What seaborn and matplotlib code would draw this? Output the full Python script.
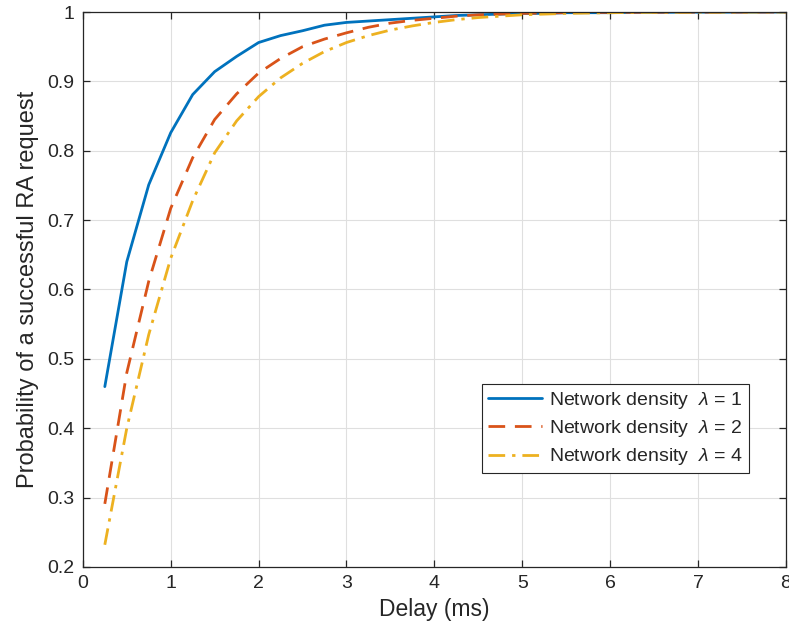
import numpy as np
import pandas as pd
import matplotlib
matplotlib.use("Agg")
import matplotlib.pyplot as plt
import seaborn as sns

delay = [0.25, 0.5, 0.75, 1.0, 1.25, 1.5, 1.75, 2.0, 2.25, 2.5, 2.75, 3.0, 3.25, 3.5,
         3.75, 4.0, 4.25, 4.5, 4.75, 5.0, 5.25, 5.5, 5.75, 6.0, 6.25, 6.5, 6.75, 7.0,
         7.25, 7.5, 7.75, 8.0]
p_lambda1 = [0.46, 0.64, 0.751, 0.826, 0.881, 0.914, 0.936, 0.956, 0.966, 0.973, 0.981, 0.985,
             0.987, 0.989, 0.991, 0.993, 0.995, 0.996, 0.997, 0.998, 0.998, 0.999, 0.999, 0.999,
             0.9995, 0.9995, 0.9997, 0.9998, 0.9998, 0.9999, 0.9999, 1.0]
p_lambda2 = [0.291, 0.48, 0.612, 0.717, 0.79, 0.845, 0.882, 0.912, 0.933, 0.95, 0.961, 0.97,
             0.978, 0.984, 0.988, 0.991, 0.994, 0.996, 0.997, 0.998, 0.9985, 0.999, 0.9993, 0.9995,
             0.9996, 0.9997, 0.9998, 0.9999, 0.9999, 0.9999, 1.0, 1.0]
p_lambda4 = [0.232, 0.40, 0.535, 0.645, 0.728, 0.797, 0.843, 0.878, 0.905, 0.926, 0.943, 0.956,
             0.966, 0.974, 0.98, 0.985, 0.989, 0.992, 0.994, 0.996, 0.997, 0.998, 0.9985, 0.999,
             0.9993, 0.9995, 0.9996, 0.9997, 0.9998, 0.9999, 0.9999, 1.0]
labels = [r"Network density  $\lambda$ = $\mathit{1}$",
          r"Network density  $\lambda$ = $\mathit{2}$",
          r"Network density  $\lambda$ = $\mathit{4}$"]
colors = ["#0072BD", "#D95319", "#EDB120"]

sns.set_theme(style="whitegrid")
plt.rcParams["font.family"] = ["Liberation Sans", "DejaVu Sans"]
plt.rcParams["mathtext.fontset"] = "custom"
plt.rcParams["mathtext.it"] = "Liberation Sans:italic"
plt.rcParams["mathtext.rm"] = "Liberation Sans"

df = pd.DataFrame({
    "Delay": delay * 3,
    "P": p_lambda1 + p_lambda2 + p_lambda4,
    "Series": [labels[0]] * len(delay) + [labels[1]] * len(delay) + [labels[2]] * len(delay),
})

fig = plt.figure(figsize=(7.89, 6.39), dpi=100)
ax = fig.add_axes([0.105, 0.1127, 0.891, 0.8685])

sns.lineplot(data=df, x="Delay", y="P", hue="Series", style="Series",
             palette=colors, dashes=[(None, None), (6, 3.5), (6, 2.5, 1.2, 2.5)],
             linewidth=2.0, ax=ax)

ax.set_xlim(0, 8)
ax.set_ylim(0.2, 1.0)
ax.set_xticks(range(0, 9))
ax.set_yticks([0.2, 0.3, 0.4, 0.5, 0.6, 0.7, 0.8, 0.9, 1.0])
ax.set_yticklabels(["0.2", "0.3", "0.4", "0.5", "0.6", "0.7", "0.8", "0.9", "1"])
ax.set_xlabel("Delay (ms)", fontsize=16.5, color="#262626", labelpad=4)
ax.set_ylabel("Probability of a successful RA request", fontsize=17, color="#262626", labelpad=6)
ax.grid(True, color="#DFDFDF", linewidth=0.8)
ax.set_facecolor("white")
for s in ax.spines.values():
    s.set_visible(True)
    s.set_color("#262626")
    s.set_linewidth(0.9)
ax.tick_params(axis="both", direction="in", length=5, width=0.9, color="#262626",
               labelsize=14, labelcolor="#262626", top=True, right=True, bottom=True, left=True,
               pad=6)

leg = ax.legend(loc="upper right", bbox_to_anchor=(0.947, 0.33), fontsize=14,
                frameon=True, fancybox=False, edgecolor="#262626", framealpha=1,
                borderpad=0.3, labelspacing=0.38, handlelength=2.8, handletextpad=0.35,
                borderaxespad=0)
leg.get_frame().set_linewidth(0.8)

fig.savefig("out.png", dpi=100)
